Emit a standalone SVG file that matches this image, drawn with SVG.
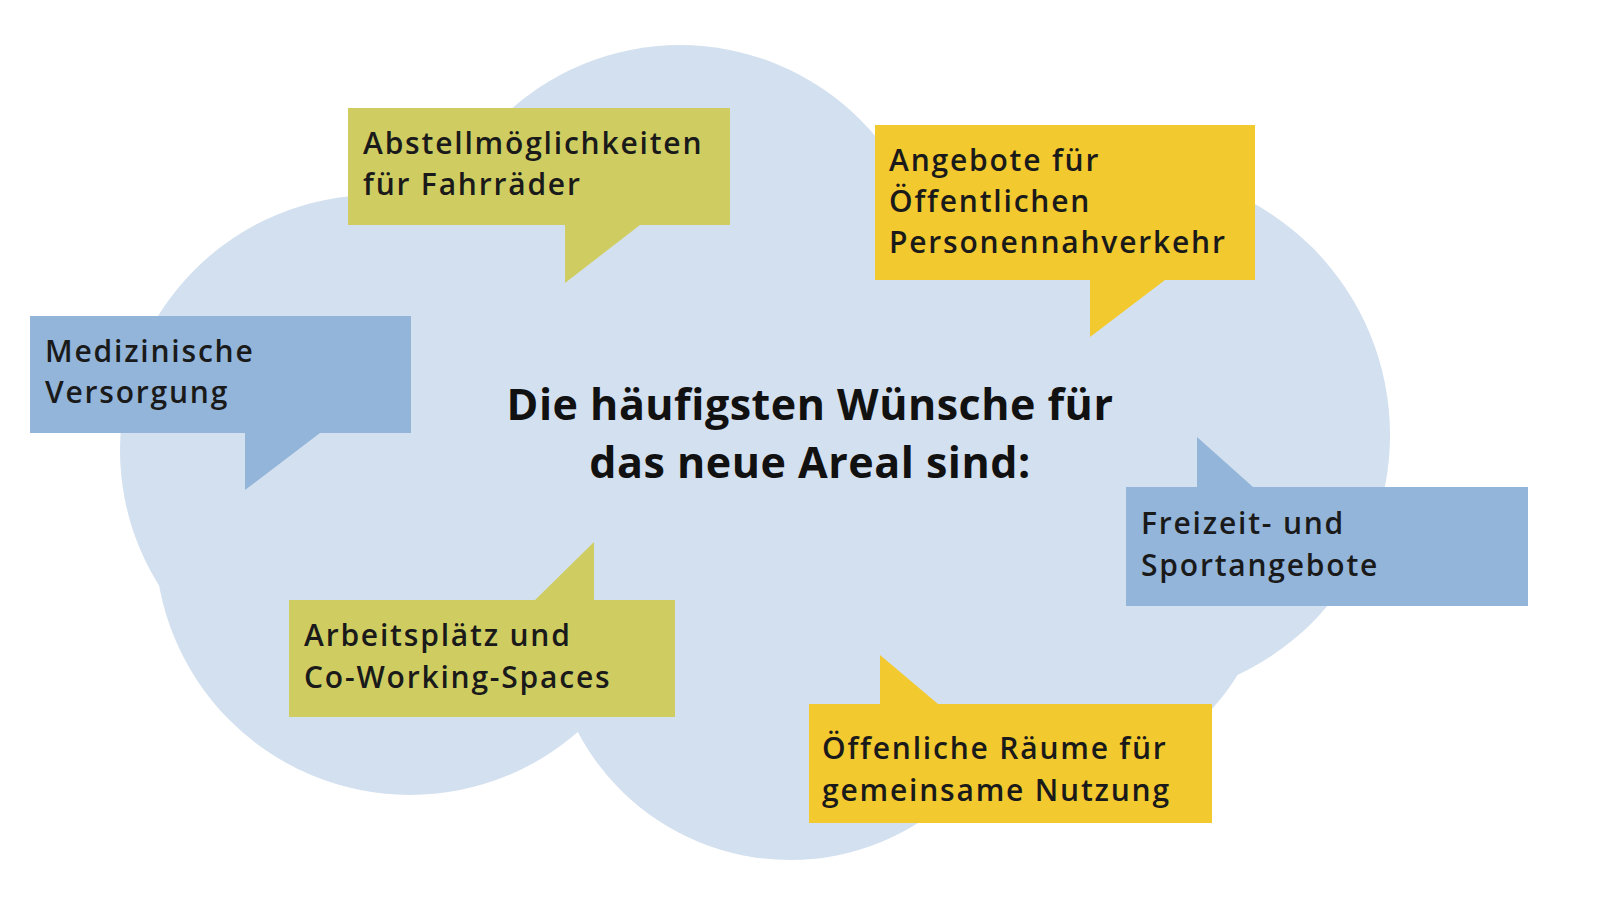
<svg xmlns="http://www.w3.org/2000/svg" width="1600" height="924" viewBox="0 0 1600 924">
<style>
.t{font-family:"Open Sans","Liberation Sans",sans-serif;font-size:30px;font-weight:600;fill:#1a1a1a;letter-spacing:1.8px}
.h{font-family:"Open Sans","Liberation Sans",sans-serif;font-size:43px;font-weight:bold;fill:#111;text-anchor:middle;letter-spacing:0.5px}
.o{fill:#cfcd62}.y{fill:#f2c92e}.b{fill:#93b5da}
</style>
<rect width="1600" height="924" fill="#fff"/>
<g id="cloud" fill="#d3e0ef">
<circle cx="680" cy="300" r="255"/>
<circle cx="375" cy="450" r="255"/>
<circle cx="410" cy="540" r="255"/>
<circle cx="790" cy="620" r="240"/>
<circle cx="1125" cy="435" r="265"/>
<circle cx="1050" cy="560" r="220"/>
<rect x="420" y="300" width="700" height="330"/>
</g>
<g id="title"><text class="h" x="810" y="420">Die häufigsten Wünsche für</text><text class="h" x="810" y="478">das neue Areal sind:</text></g>
<g id="n1"><path class="o" d="M348 108H730V225H640L565 283V225H348Z"/><text class="t" x="363" y="154">Abstellmöglichkeiten</text><text class="t" x="363" y="195">für Fahrräder</text></g>
<g id="n2"><path class="y" d="M875 125H1255V280H1165L1090 337V280H875Z"/><text class="t" x="889" y="171">Angebote für</text><text class="t" x="889" y="212">Öffentlichen</text><text class="t" x="889" y="253">Personennahverkehr</text></g>
<g id="n3"><path class="b" d="M30 316H411V433H320L245 490V433H30Z"/><text class="t" x="45" y="362">Medizinische</text><text class="t" x="45" y="403">Versorgung</text></g>
<g id="n4"><path class="b" d="M1126 487H1197V437L1253 487H1528V606H1126Z"/><text class="t" x="1141" y="534">Freizeit- und</text><text class="t" x="1141" y="576">Sportangebote</text></g>
<g id="n5"><path class="o" d="M289 600H535L594 542V600H675V717H289Z"/><text class="t" x="304" y="646">Arbeitsplätz und</text><text class="t" x="304" y="688">Co-Working-Spaces</text></g>
<g id="n6"><path class="y" d="M809 704H880V655L938 704H1212V823H809Z"/><text class="t" x="822" y="759">Öffenliche Räume für</text><text class="t" x="822" y="801">gemeinsame Nutzung</text></g>
<g id="connectors"/>
</svg>
